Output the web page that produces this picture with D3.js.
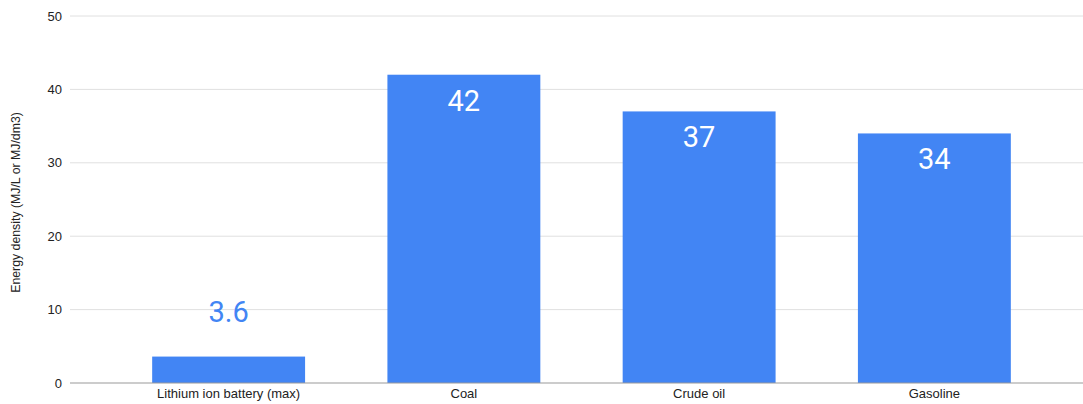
<!DOCTYPE html>
<html>
<head>
<meta charset="utf-8">
<script src="https://cdn.jsdelivr.net/npm/d3@7"></script>
<style>
  html, body { margin: 0; padding: 0; background: #ffffff; }
  svg { display: block; }
</style>
</head>
<body>
<svg id="chart" width="1083" height="404"></svg>
<script>
// Energy density of common energy stores
const categories = ["Lithium ion battery (max)", "Coal", "Crude oil", "Gasoline"];
const values = [3.6, 42, 37, 34];
const yTicks = [0, 10, 20, 30, 40, 50];
const yTitle = "Energy density (MJ/L or MJ/dm3)";

const svg = d3.select("#chart");
const W = 1083, H = 404;
const gridLeft = 70, gridRight = W;
const plotTop = 16, plotBottom = 383;

const y = d3.scaleLinear().domain([0, 50]).range([plotBottom, plotTop]);
const x = d3.scaleBand()
  .domain(categories)
  .range([111, 1052])
  .paddingInner(0.35)
  .paddingOuter(0.175);

const axisFont = "Arial, 'Liberation Sans', sans-serif";
const labelFont = "Roboto, Arial, sans-serif";

// Horizontal gridlines and tick labels
const yAxis = d3.axisLeft(y).tickValues(yTicks).tickSize(0).tickPadding(8);
const gy = svg.append("g").attr("transform", `translate(${gridLeft},0)`).call(yAxis);
gy.select(".domain").remove();
gy.selectAll("text")
  .attr("font-family", axisFont)
  .attr("font-size", 13)
  .attr("fill", "#222222");

svg.append("g").selectAll("line")
  .data(yTicks.filter(t => t !== 0))
  .join("line")
  .attr("x1", gridLeft).attr("x2", gridRight)
  .attr("y1", d => y(d)).attr("y2", d => y(d))
  .attr("stroke", "#e0e0e0").attr("stroke-width", 1);

// Bars
svg.append("g").selectAll("rect")
  .data(values)
  .join("rect")
  .attr("x", (d, i) => x(categories[i]))
  .attr("width", x.bandwidth())
  .attr("y", d => y(d))
  .attr("height", d => y(0) - y(d))
  .attr("fill", "#4285f4");

// Baseline
svg.append("line")
  .attr("x1", gridLeft).attr("x2", gridRight)
  .attr("y1", y(0)).attr("y2", y(0))
  .attr("stroke", "#999999").attr("stroke-width", 1.2);

// Category axis labels
const xAxis = d3.axisBottom(x).tickSize(0).tickPadding(6);
const gx = svg.append("g").attr("transform", `translate(0,${y(0)})`).call(xAxis);
gx.select(".domain").remove();
gx.selectAll("text")
  .attr("font-family", axisFont)
  .attr("font-size", 13)
  .attr("fill", "#222222");

// Value labels: inside tall bars in white, above short bars in blue
svg.append("g").selectAll("text")
  .data(values)
  .join("text")
  .attr("x", (d, i) => x(categories[i]) + x.bandwidth() / 2)
  .attr("y", d => (y(0) - y(d) > 60) ? y(d) + 36 : y(d) - 35)
  .attr("text-anchor", "middle")
  .attr("font-family", labelFont)
  .attr("font-size", 29)
  .attr("fill", d => (y(0) - y(d) > 60) ? "#ffffff" : "#4285f4")
  .text(d => d);

// Y axis title
svg.append("text")
  .attr("transform", `translate(20,${(plotTop + plotBottom) / 2 + 3}) rotate(-90)`)
  .attr("text-anchor", "middle")
  .attr("font-family", axisFont)
  .attr("font-size", 12.3)
  .attr("fill", "#222222")
  .text(yTitle);
</script>
</body>
</html>
